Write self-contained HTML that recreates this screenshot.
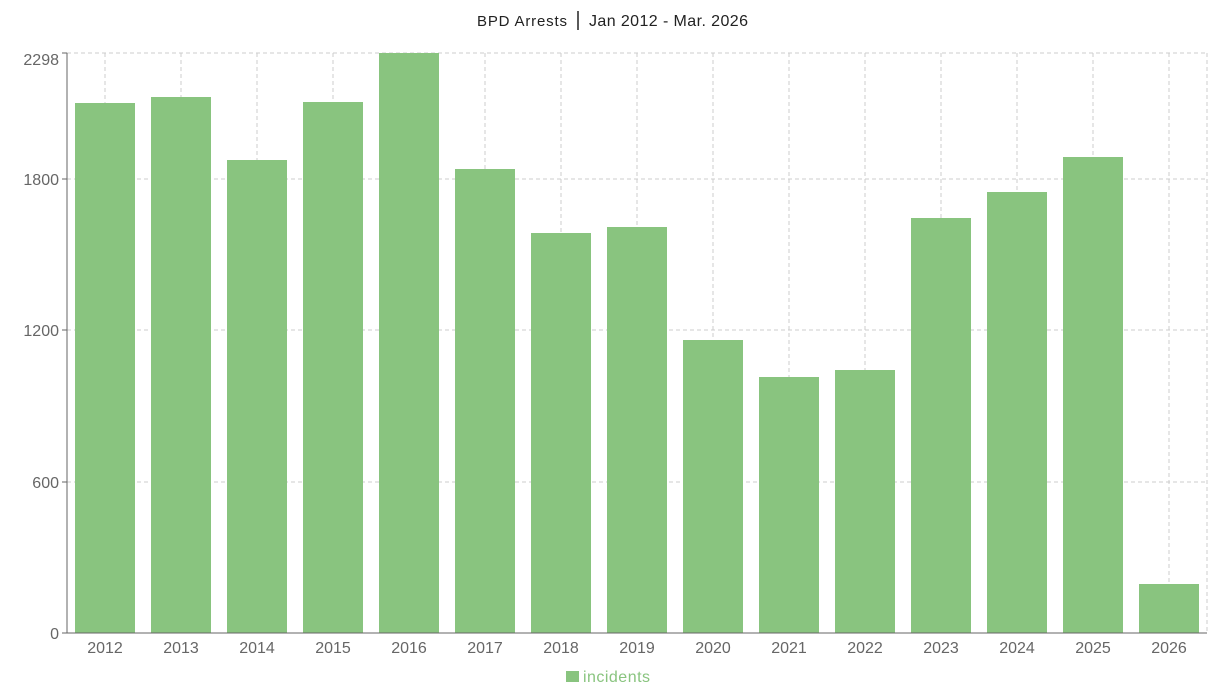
<!DOCTYPE html>
<html><head><style>body{margin:0;background:#fff}svg{display:block;font-family:"Liberation Sans",sans-serif}</style></head><body>
<svg width="1231" height="697" xmlns="http://www.w3.org/2000/svg">
<text x="477" y="26" font-size="15" fill="#222" textLength="90">BPD Arrests</text>
<line x1="578" y1="11" x2="578" y2="30" stroke="#222" stroke-width="1.5"/>
<text x="589" y="26" font-size="16" fill="#222" textLength="159">Jan 2012 - Mar. 2026</text>
<g stroke="#ccc" stroke-dasharray="4,3" stroke-width="1">
<line x1="67" y1="53" x2="1207" y2="53"/><line x1="67" y1="179" x2="1207" y2="179"/><line x1="67" y1="330" x2="1207" y2="330"/><line x1="67" y1="482" x2="1207" y2="482"/>
<line x1="105" y1="53" x2="105" y2="633"/><line x1="181" y1="53" x2="181" y2="633"/><line x1="257" y1="53" x2="257" y2="633"/><line x1="333" y1="53" x2="333" y2="633"/><line x1="409" y1="53" x2="409" y2="633"/><line x1="485" y1="53" x2="485" y2="633"/><line x1="561" y1="53" x2="561" y2="633"/><line x1="637" y1="53" x2="637" y2="633"/><line x1="713" y1="53" x2="713" y2="633"/><line x1="789" y1="53" x2="789" y2="633"/><line x1="865" y1="53" x2="865" y2="633"/><line x1="941" y1="53" x2="941" y2="633"/><line x1="1017" y1="53" x2="1017" y2="633"/><line x1="1093" y1="53" x2="1093" y2="633"/><line x1="1169" y1="53" x2="1169" y2="633"/><line x1="1207" y1="53" x2="1207" y2="633"/>
</g>
<g fill="#89c47f">
<rect x="75" y="103" width="60" height="530"/><rect x="151" y="97" width="60" height="536"/><rect x="227" y="160" width="60" height="473"/><rect x="303" y="102" width="60" height="531"/><rect x="379" y="53" width="60" height="580"/><rect x="455" y="169" width="60" height="464"/><rect x="531" y="233" width="60" height="400"/><rect x="607" y="227" width="60" height="406"/><rect x="683" y="340" width="60" height="293"/><rect x="759" y="377" width="60" height="256"/><rect x="835" y="370" width="60" height="263"/><rect x="911" y="218" width="60" height="415"/><rect x="987" y="192" width="60" height="441"/><rect x="1063" y="157" width="60" height="476"/><rect x="1139" y="584" width="60" height="49"/>
</g>
<g stroke="#666" stroke-width="1">
<line x1="67" y1="53" x2="67" y2="633"/><line x1="62" y1="633" x2="1207" y2="633"/>
<line x1="62" y1="53" x2="67" y2="53"/><line x1="62" y1="179" x2="67" y2="179"/><line x1="62" y1="330" x2="67" y2="330"/><line x1="62" y1="482" x2="67" y2="482"/>
</g>
<g font-size="16" fill="#666" text-anchor="end">
<text x="59" y="65">2298</text><text x="59" y="185">1800</text><text x="59" y="336">1200</text><text x="59" y="488">600</text><text x="59" y="639">0</text>
</g>
<g font-size="16" fill="#666" text-anchor="middle">
<text x="105" y="653">2012</text><text x="181" y="653">2013</text><text x="257" y="653">2014</text><text x="333" y="653">2015</text><text x="409" y="653">2016</text><text x="485" y="653">2017</text><text x="561" y="653">2018</text><text x="637" y="653">2019</text><text x="713" y="653">2020</text><text x="789" y="653">2021</text><text x="865" y="653">2022</text><text x="941" y="653">2023</text><text x="1017" y="653">2024</text><text x="1093" y="653">2025</text><text x="1169" y="653">2026</text>
</g>
<rect x="566" y="671" width="13" height="11" fill="#89c47f"/>
<text x="583" y="682" font-size="16" fill="#89c47f" textLength="67">incidents</text>
</svg>
</body></html>
